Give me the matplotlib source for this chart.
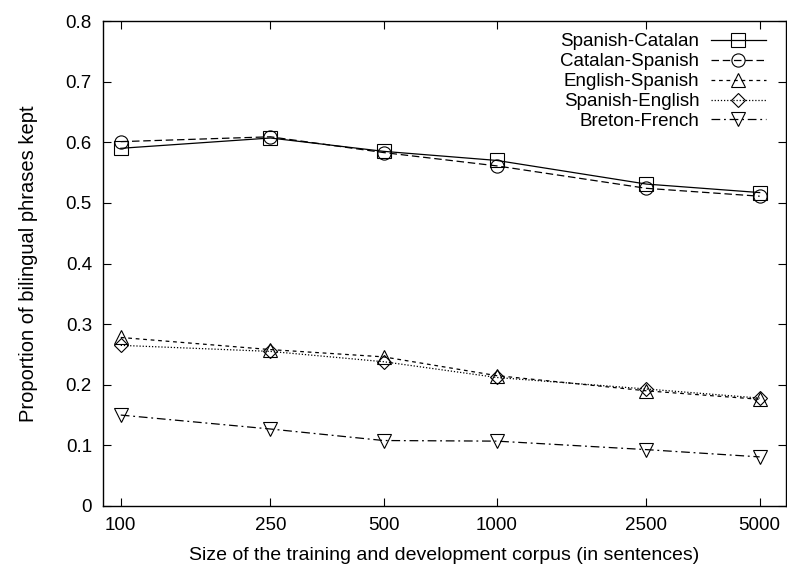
import matplotlib
matplotlib.use("Agg")
import matplotlib.pyplot as plt
from matplotlib.ticker import FixedLocator, FixedFormatter, NullLocator

plt.rcParams['font.family'] = ['Liberation Sans', 'DejaVu Sans']

sizes = [100, 250, 500, 1000, 2500, 5000]
size_labels = ["100", "250", "500", "1000", "2500", "5000"]

spanish_catalan = [0.590, 0.607, 0.585, 0.570, 0.531, 0.517]
catalan_spanish = [0.601, 0.609, 0.583, 0.561, 0.524, 0.511]
english_spanish = [0.278, 0.258, 0.246, 0.215, 0.190, 0.176]
spanish_english = [0.265, 0.255, 0.238, 0.212, 0.193, 0.178]
breton_french = [0.150, 0.127, 0.108, 0.107, 0.093, 0.081]

yticks = [0, 0.1, 0.2, 0.3, 0.4, 0.5, 0.6, 0.7, 0.8]
ytick_labels = ["0", "0.1", "0.2", "0.3", "0.4", "0.5", "0.6", "0.7", "0.8"]

fig = plt.figure(figsize=(7.87, 5.66), dpi=100)
W, H = 787, 566
ax = fig.add_axes([103 / W, 1 - 506 / H, (786 - 103) / W, (506 - 21) / H])

FS = 13.5
lw = 0.9
ms = 9.5
series = [
    ("Spanish-Catalan", spanish_catalan, 's', '-'),
    ("Catalan-Spanish", catalan_spanish, 'o', (0, (6, 3))),
    ("English-Spanish", english_spanish, '^', (0, (3, 3))),
    ("Spanish-English", spanish_english, 'D', (0, (1, 1.5))),
    ("Breton-French", breton_french, 'v', (0, (7, 3, 1.5, 3))),
]
for name, vals, mk, ls in series:
    kw = dict(markersize=ms if mk != 'D' else 7.5)
    ax.plot(sizes, vals, color='black', linestyle=ls, linewidth=lw,
            marker=mk, markerfacecolor='none', markeredgecolor='black',
            markeredgewidth=0.8, label=name, **kw)

ax.set_xscale('log')
ax.set_xlim(89.7, 5875)
ax.set_ylim(0, 0.8)
ax.xaxis.set_major_locator(FixedLocator(sizes))
ax.xaxis.set_major_formatter(FixedFormatter(size_labels))
ax.xaxis.set_minor_locator(NullLocator())
ax.set_yticks(yticks)
ax.set_yticklabels(ytick_labels)
ax.tick_params(direction='in', length=6, width=0.8, top=True, right=True,
               labelsize=FS)
ax.tick_params(axis='x', pad=8)
ax.tick_params(axis='y', pad=8)
for s in ax.spines.values():
    s.set_linewidth(1.0)

ax.set_xlabel("Size of the training and development corpus (in sentences)",
              fontsize=14, labelpad=9)
ax.set_ylabel("Proportion of bilingual phrases kept", fontsize=14.5, labelpad=20)

leg = ax.legend(loc='upper right', bbox_to_anchor=(0.9707, 0.975), frameon=False,
                markerfirst=False, fontsize=FS, handlelength=2.95,
                handletextpad=0.6, labelspacing=0.15, borderaxespad=0.0,
                borderpad=0.0)

fig.savefig("out.png", dpi=100)
